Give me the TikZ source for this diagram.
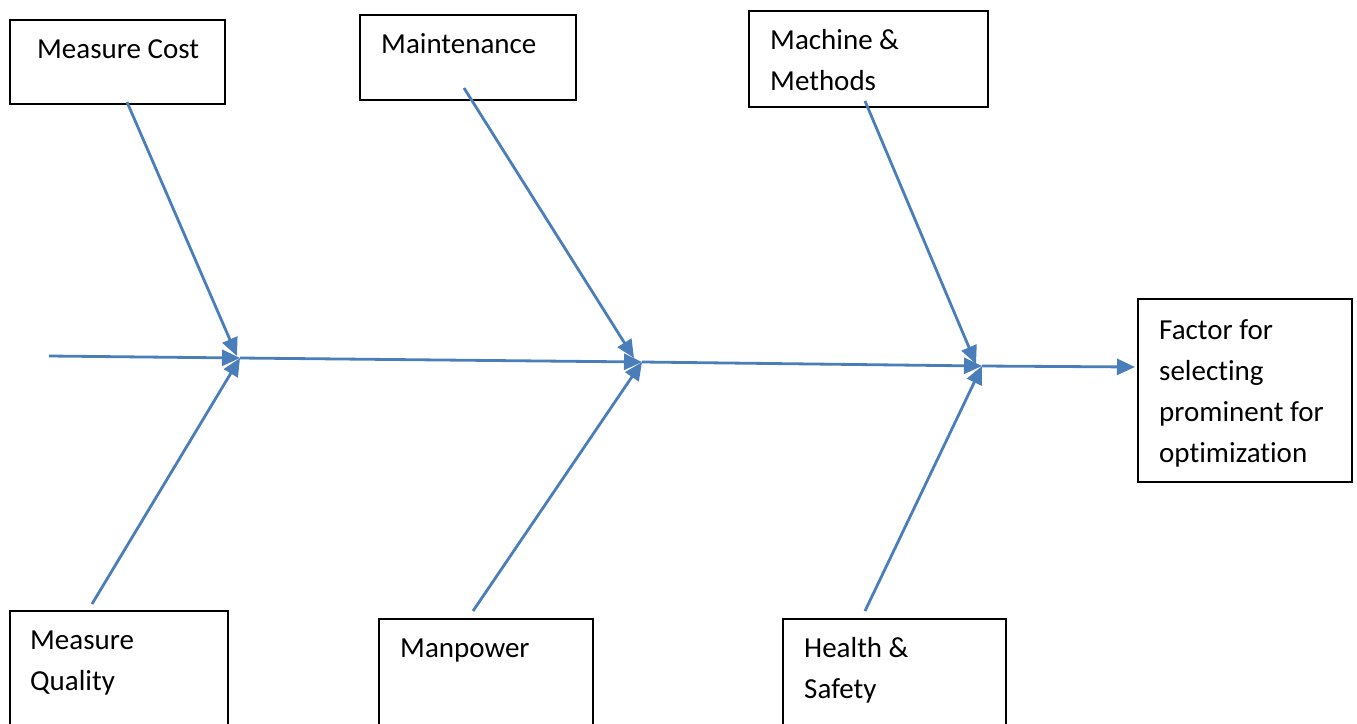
\documentclass[tikz,border=0pt]{standalone}
\usepackage{fontspec}
\setmainfont{Carlito}[Ligatures={NoCommon}]
\usetikzlibrary{arrows.meta}
\definecolor{bone}{HTML}{4A7EBB}
\begin{document}
\begin{tikzpicture}[x=1pt,y=-1pt,
  box/.style={draw=black,line width=1.8pt,rectangle,inner sep=0pt,anchor=north west},
  txt/.style={anchor=base west,inner sep=0pt,font=\fontsize{29}{41}\selectfont,align=left},
  bonearrow/.style={draw=bone,line width=2.8pt,-{Triangle[length=18pt,width=16pt]}}]
\useasboundingbox (0,0) rectangle (1357,723);
\clip (0,0) rectangle (1357,723);
% boxes
\node[box,minimum width=215pt,minimum height=84pt] (mc) at (9,19) {};
\node[box,minimum width=216pt,minimum height=85pt] (mt) at (359,14) {};
\node[box,minimum width=239pt,minimum height=96pt] (mm) at (748,10) {};
\node[box,minimum width=214pt,minimum height=183pt] (ff) at (1137,298) {};
\node[box,minimum width=218pt,minimum height=140pt] (mq) at (9,610) {};
\node[box,minimum width=214pt,minimum height=130pt] (mp) at (378,618) {};
\node[box,minimum width=223pt,minimum height=130pt] (hs) at (782,618) {};
% texts (anchor = baseline of last line)
\node[txt] (tmc) at (37,58) {Measure Cost};
\node[txt] (tmt) at (381,53) {Maintenance};
\node[txt] (tmm) at (770,90) {Machine \&\\Methods};
\node[txt] (tff) at (1159,462) {Factor for\\selecting\\prominent for\\optimization};
\node[txt] (tmq) at (30,690) {Measure\\Quality};
\node[txt] (tmp) at (400,657) {Manpower};
\node[txt] (ths) at (804,698) {Health \&\\Safety};
% spine
\coordinate (s0) at (49,356);
\coordinate (j1) at (240,358);
\coordinate (j2) at (642,362);
\coordinate (j3) at (982,366);
\coordinate (e) at (1135,367);
\draw[bonearrow] (s0) -- (j1);
\draw[bonearrow] (j1) -- (j2);
\draw[bonearrow] (j2) -- (j3);
\draw[bonearrow] (j3) -- (e);
% branches
\coordinate (b1) at (127,102);
\coordinate (b2) at (92,604);
\coordinate (b3) at (464,88);
\coordinate (b4) at (473,611);
\coordinate (b5) at (865,101);
\coordinate (b6) at (865,611);
\draw[bonearrow] (b1) -- (237,356);
\draw[bonearrow] (b2) -- (j1);
\draw[bonearrow] (b3) -- (634,358);
\draw[bonearrow] (b4) -- (j2);
\draw[bonearrow] (b5) -- (976,364);
\draw[bonearrow] (b6) -- (j3);
\end{tikzpicture}
\end{document}
